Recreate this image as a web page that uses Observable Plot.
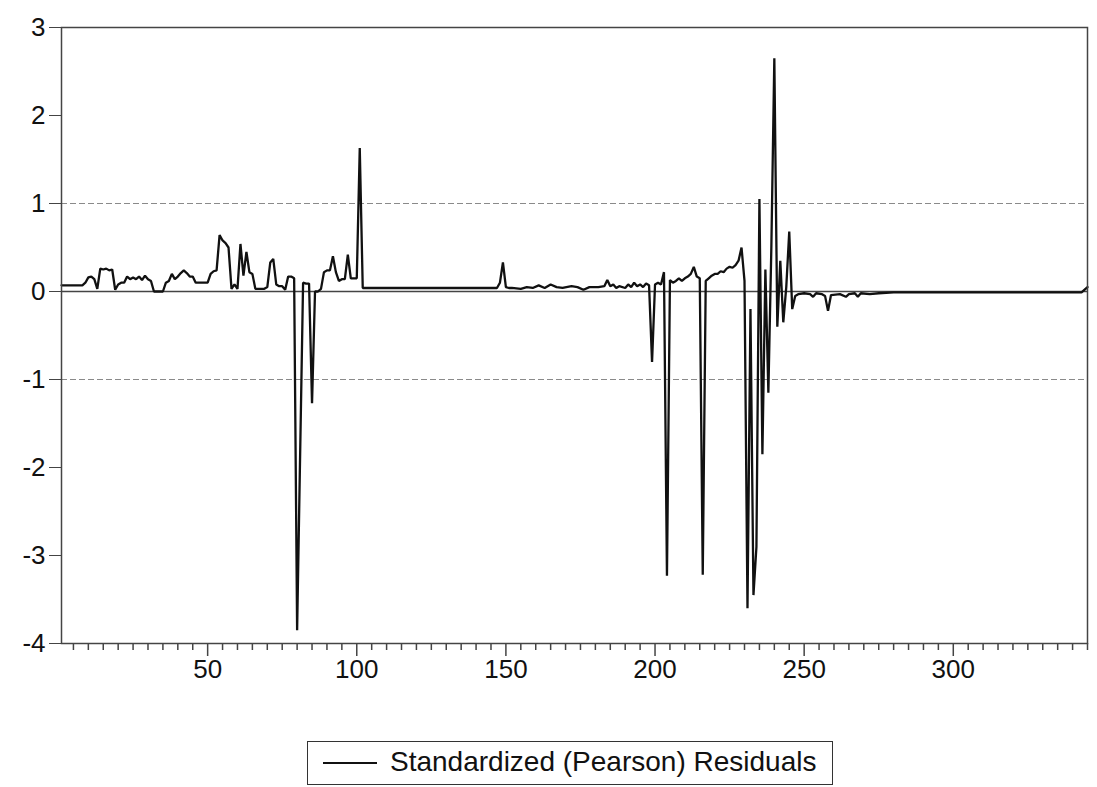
<!DOCTYPE html>
<html>
<head>
<meta charset="utf-8">
<script src="https://cdn.jsdelivr.net/npm/d3@7"></script>
<script src="https://cdn.jsdelivr.net/npm/@observablehq/plot@0.6"></script>
<style>
  html, body { margin: 0; padding: 0; background: #fff; }
  #wrap { position: relative; width: 1097px; height: 787px; overflow: hidden; font-family: "Liberation Sans", Arial, sans-serif; }
  #legend { position: absolute; left: 307px; top: 741px; width: 524px; height: 42px; border: 1.5px solid #333; background: #fff; }
  #legend .swatch { position: absolute; left: 15px; top: 20px; width: 54px; height: 0; border-top: 2px solid #111; }
  #legend .label { position: absolute; left: 82px; top: 4px; font-size: 28px; color: #111; white-space: nowrap; }
</style>
</head>
<body>
<div id="wrap"></div>
<script>
const obs = [
  1, 8, 9, 10, 11, 12, 13, 14, 15, 16, 17, 18, 19, 20, 21, 22, 23, 24, 25, 26, 27, 28, 29, 30,
  31, 32, 35, 36, 37, 38, 39, 40, 41, 42, 43, 44, 45, 46, 50, 51, 52, 53, 54, 55, 56, 57, 58, 59, 60,
  61, 62, 63, 64, 65, 66, 69, 70, 71, 72, 73, 74, 75, 76, 77, 78, 79, 80, 82, 83, 84, 85, 86, 87, 88,
  89, 90, 91, 92, 93, 94, 95, 96, 97, 98, 99, 100, 101, 102, 120, 140, 147, 148, 149, 150, 151,
  152, 155, 157, 159, 161, 163, 165, 167, 169, 172, 174, 176, 178, 181, 183, 184, 185, 186, 187,
  188, 190, 191, 192, 193, 194, 195, 196, 197, 198, 199, 200, 201, 202, 203, 204, 205, 206, 207,
  208, 209, 210, 211, 212, 213, 214, 215, 216, 217, 218, 219, 220, 221, 222, 223, 224, 225, 226,
  227, 228, 229, 230, 231, 232, 233, 234, 235, 236, 237, 238, 239, 240, 241, 242, 243, 244, 245,
  246, 247, 248, 250, 252, 253, 254, 256, 257, 258, 259, 262, 264, 265, 267, 268, 269, 272, 275,
  280, 343, 345
];
const residuals = [
  0.07, 0.07, 0.10, 0.16, 0.17, 0.14, 0.03, 0.26, 0.25, 0.26, 0.24, 0.25, 0.02, 0.08, 0.10, 0.10, 0.17, 0.14, 0.16, 0.14, 0.17, 0.13, 0.18, 0.14,
  0.12, 0.00, 0.00, 0.10, 0.12, 0.20, 0.14, 0.17, 0.21, 0.24, 0.21, 0.17, 0.17, 0.10, 0.10, 0.20, 0.23, 0.24, 0.64, 0.58, 0.55, 0.50, 0.03, 0.08, 0.03,
  0.54, 0.18, 0.45, 0.22, 0.20, 0.03, 0.03, 0.05, 0.33, 0.37, 0.08, 0.06, 0.06, 0.02, 0.17, 0.17, 0.15, -3.85, 0.10, 0.09, 0.09, -1.27, 0.00, 0.00, 0.03,
  0.22, 0.24, 0.24, 0.40, 0.22, 0.12, 0.14, 0.14, 0.42, 0.15, 0.15, 0.15, 1.63, 0.04, 0.04, 0.04, 0.04, 0.10, 0.33, 0.05, 0.04,
  0.04, 0.03, 0.05, 0.04, 0.07, 0.04, 0.08, 0.05, 0.04, 0.06, 0.05, 0.02, 0.05, 0.05, 0.06, 0.13, 0.06, 0.08, 0.04,
  0.06, 0.04, 0.08, 0.05, 0.10, 0.06, 0.08, 0.05, 0.09, 0.07, -0.80, 0.08, 0.10, 0.08, 0.22, -3.23, 0.13, 0.10, 0.12,
  0.15, 0.12, 0.15, 0.17, 0.20, 0.28, 0.17, 0.15, -3.22, 0.12, 0.15, 0.18, 0.20, 0.20, 0.23, 0.22, 0.26, 0.28, 0.27,
  0.30, 0.35, 0.50, 0.12, -3.60, -0.20, -3.45, -2.90, 1.05, -1.85, 0.25, -1.15, 0.50, 2.65, -0.40, 0.35, -0.35, 0.05, 0.68,
  -0.20, -0.05, -0.03, -0.02, -0.03, -0.06, -0.02, -0.03, -0.05, -0.22, -0.04, -0.03, -0.06, -0.03, -0.02, -0.06, -0.02, -0.03, -0.02,
  -0.01, -0.01, 0.05
];
const yTicks = [-4, -3, -2, -1, 0, 1, 2, 3];
const majorTicks = [50, 100, 150, 200, 250, 300];
const minorTicks = d3.range(5, 346, 5).filter(v => v % 50 !== 0);
const refLines = [1, -1];

const data = obs.map((x, i) => ({x, y: residuals[i]}));

const chart = Plot.plot({
  width: 1097,
  height: 720,
  marginLeft: 61,
  marginRight: 10,
  marginTop: 27,
  marginBottom: 77,
  x: {domain: [1, 345]},
  y: {domain: [-4, 3]},
  style: {fontFamily: "'Liberation Sans', Arial, sans-serif", fontSize: "26px", color: "#111", background: "white", overflow: "visible"},
  marks: [
    Plot.ruleY(refLines, {stroke: "#8a8a8a", strokeWidth: 1, strokeDasharray: "6,3"}),
    Plot.ruleY([0], {stroke: "#444", strokeWidth: 1.5}),
    Plot.line(data, {x: "x", y: "y", stroke: "#111", strokeWidth: 2.3, strokeLinejoin: "miter"}),
    Plot.frame({stroke: "#444", strokeWidth: 1.5}),
    Plot.axisY({ticks: yTicks, tickSize: 12, tickPadding: 4, label: null, stroke: "#444",
      tickFormat: d => (d < 0 ? "-" + Math.abs(d) : String(d))}),
    Plot.axisX({ticks: minorTicks, tickSize: 7, tickFormat: () => "", label: null, stroke: "#444", strokeWidth: 1.5}),
    Plot.axisX({ticks: majorTicks, tickSize: 13, tickPadding: 3, label: null, stroke: "#444", strokeWidth: 1.5})
  ]
});

const wrap = document.getElementById("wrap");
wrap.appendChild(chart);
const legend = document.createElement("div");
legend.id = "legend";
legend.innerHTML = '<div class="swatch"></div><div class="label">Standardized (Pearson) Residuals</div>';
wrap.appendChild(legend);
</script>
</body>
</html>
